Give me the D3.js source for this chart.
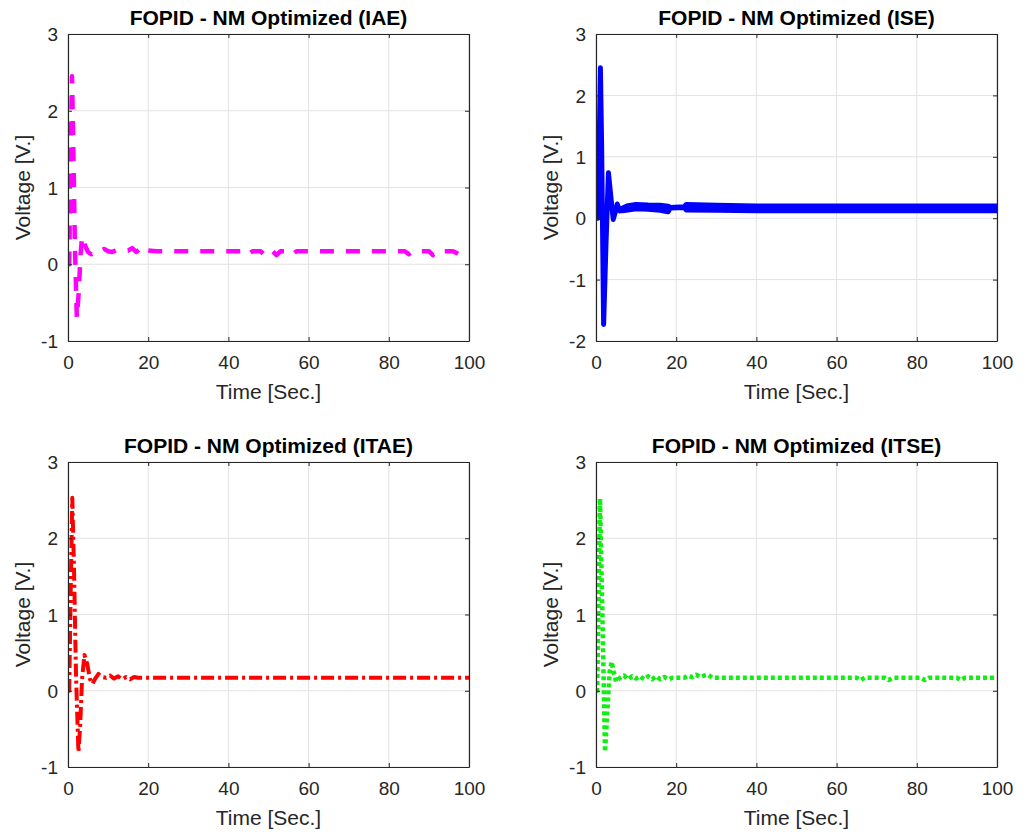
<!DOCTYPE html>
<html>
<head>
<meta charset="utf-8">
<script src="https://cdn.jsdelivr.net/npm/d3@7"></script>
<style>
body { margin: 0; background: #fff; }
text { font-family: "Liberation Sans", Arial, sans-serif; }
</style>
</head>
<body>
<svg id="chart" width="1030" height="835"></svg>
<script>
// Axis ticks
var xTicks = [0, 20, 40, 60, 80, 100];
var yTicksA = [-1, 0, 1, 2, 3];
var yTicksB = [-2, -1, 0, 1, 2, 3];

// [time, voltage]
var iae = [[0,0],[0.3,0],[0.6,1.2],[1.0,2.45],[1.3,1.6],[1.7,0.3],[2.2,-0.7],[2.7,-0.35],[3.1,0.1],[3.5,0.36],
  [4.2,0.25],[5.0,0.16],[5.8,0.13],[6.5,0.16],[8,0.17],[9,0.2],[10,0.17],[11,0.16],[12,0.18],[13,0.17],
  [15,0.18],[16,0.21],[17,0.16],[18,0.2],[19,0.15],[20,0.18],[22,0.17],[44,0.17],[45,0.13],[46,0.17],
  [48,0.17],[49,0.12],[50,0.17],[51,0.17],[52,0.12],[53,0.17],[55,0.17],[56,0.13],[57,0.17],[84,0.17],
  [85,0.13],[86,0.17],[90,0.17],[91,0.12],[92,0.17],[96,0.17],[97.5,0.13],[99,0.14]];

// [time, voltage, half width of the noise band]
var ise = [[0,0,0],[0.5,0,0],[1.1,2.45,0],[1.4,1.2,0],[1.9,-1.73,0],[2.5,-0.4,0],[3.1,0.74,0],[3.7,0.35,0],
  [4.3,-0.02,0],[4.8,0.1,0],[5.3,0.23,0],[5.9,0.12,0],[6.5,0.14,0.02],[8,0.17,0.035],[10,0.19,0.035],
  [13,0.18,0.035],[16,0.17,0.04],[18,0.15,0.045],[18.5,0.17,0.005],[22,0.18,0.005],[22.5,0.18,0.045],
  [30,0.17,0.04],[40,0.16,0.04],[60,0.16,0.04],[80,0.16,0.04],[100,0.16,0.04]];

var itae = [[0,0],[0.3,0],[0.7,1.4],[1.07,2.53],[1.5,1.6],[2.0,0.2],[2.6,-0.8],[3.0,-0.5],[3.5,0.15],[4.1,0.47],
  [4.8,0.35],[5.5,0.15],[6.1,0.09],[6.8,0.16],[7.6,0.22],[8.5,0.18],[9.5,0.17],[10.5,0.2],[11.5,0.16],
  [12.5,0.19],[13.5,0.15],[14.5,0.18],[15.5,0.15],[16.5,0.18],[17.5,0.17],[100,0.17]];

var itse = [[0,0],[0.3,0],[1.0,2.52],[1.6,1.0],[2.25,-0.8],[2.8,-0.3],[3.4,0.25],[3.9,0.38],[4.4,0.25],[5.0,0.12],
  [6,0.17],[7,0.2],[8,0.15],[9,0.19],[10,0.16],[11,0.19],[12,0.15],[13,0.19],[14,0.15],[15,0.19],[16,0.15],
  [17,0.18],[18,0.15],[19,0.17],[22,0.17],[23,0.2],[24,0.18],[25,0.21],[26,0.18],[27,0.2],[28,0.21],[29,0.17],
  [65,0.17],[66,0.14],[67,0.17],[72,0.17],[73,0.14],[74,0.17],[81,0.17],[82,0.14],[83,0.17],[90,0.17],
  [91,0.14],[92,0.17],[100,0.17]];

var titles = ["FOPID - NM Optimized (IAE)", "FOPID - NM Optimized (ISE)",
              "FOPID - NM Optimized (ITAE)", "FOPID - NM Optimized (ITSE)"];

var panels = [
  {title: titles[0], data: iae, color: "#ff00ff", dash: "14,12", lw: 4.5, yTicks: yTicksA, left: 68, top: 34, h: 307},
  {title: titles[1], data: ise, color: "#0000ff", dash: null, lw: 5, yTicks: yTicksB, left: 596, top: 34, h: 307, band: true},
  {title: titles[2], data: itae, color: "#ff0000", dash: "13,4,3,4", lw: 4, yTicks: yTicksA, left: 68, top: 462, h: 305},
  {title: titles[3], data: itse, color: "#11ee11", dash: "4,3", lw: 4.5, yTicks: yTicksA, left: 596, top: 462, h: 305}
];

var svg = d3.select("#chart");
var w = 401;
var axisColor = "#262626";

panels.forEach(function(p, i) {
  var g = svg.append("g").attr("transform", `translate(${p.left}, ${p.top})`);

  var x = d3.scaleLinear().domain([0, 100]).range([0, w]);
  var y = d3.scaleLinear().domain(d3.extent(p.yTicks)).range([p.h, 0]);

  g.append("clipPath").attr("id", "clip" + i)
    .append("rect").attr("width", w).attr("height", p.h);

  // grid
  g.selectAll(".gx").data(xTicks).enter().append("line")
    .attr("x1", d => x(d)).attr("x2", d => x(d))
    .attr("y1", 0).attr("y2", p.h)
    .attr("stroke", "#e2e2e2").attr("stroke-width", 1);
  g.selectAll(".gy").data(p.yTicks).enter().append("line")
    .attr("x1", 0).attr("x2", w)
    .attr("y1", d => y(d)).attr("y2", d => y(d))
    .attr("stroke", "#e2e2e2").attr("stroke-width", 1);

  var plot = g.append("g").attr("clip-path", `url(#clip${i})`);

  if (p.band) {
    var area = d3.area()
      .x(d => x(d[0]))
      .y0(d => y(d[1] - d[2]))
      .y1(d => y(d[1] + d[2]));
    plot.append("path")
      .attr("d", area(p.data))
      .attr("fill", p.color)
      .attr("stroke", p.color)
      .attr("stroke-width", p.lw)
      .attr("stroke-linejoin", "round");
  } else {
    var line = d3.line().x(d => x(d[0])).y(d => y(d[1]));
    plot.append("path")
      .attr("d", line(p.data))
      .attr("fill", "none")
      .attr("stroke", p.color)
      .attr("stroke-width", p.lw)
      .attr("stroke-dasharray", p.dash)
      .attr("stroke-linejoin", "round");
  }

  // axes, ticks pointing inward on all four sides
  var fmt = d => String(d);
  var bottom = g.append("g").attr("transform", `translate(0, ${p.h})`)
    .call(d3.axisBottom(x).tickValues(xTicks).tickFormat(fmt).tickSizeInner(-4).tickSizeOuter(0).tickPadding(15));
  var left = g.append("g")
    .call(d3.axisLeft(y).tickValues(p.yTicks).tickFormat(fmt).tickSizeInner(-4).tickSizeOuter(0).tickPadding(10));
  var topAx = g.append("g")
    .call(d3.axisTop(x).tickValues(xTicks).tickSizeInner(-4).tickSizeOuter(0).tickFormat(""));
  var rightAx = g.append("g").attr("transform", `translate(${w}, 0)`)
    .call(d3.axisRight(y).tickValues(p.yTicks).tickSizeInner(-4).tickSizeOuter(0).tickFormat(""));

  [bottom, left, topAx, rightAx].forEach(function(a) {
    a.select(".domain").attr("stroke", axisColor).attr("stroke-width", 1.2);
    a.selectAll(".tick line").attr("stroke", axisColor);
    a.selectAll(".tick text")
      .attr("fill", axisColor)
      .style("font-size", "19px")
      .style("font-family", '"Liberation Sans", Arial, sans-serif');
  });
  left.selectAll(".tick text").attr("dy", "0.35em");

  // labels
  g.append("text")
    .attr("x", w / 2).attr("y", p.h + 58)
    .attr("text-anchor", "middle")
    .attr("fill", axisColor)
    .style("font-size", "21px")
    .text("Time [Sec.]");

  g.append("text")
    .attr("transform", `translate(-38, ${p.h / 2}) rotate(-90)`)
    .attr("text-anchor", "middle")
    .attr("fill", axisColor)
    .style("font-size", "21px")
    .text("Voltage [V.]");

  g.append("text")
    .attr("x", w / 2).attr("y", -9)
    .attr("text-anchor", "middle")
    .attr("fill", "#000")
    .style("font-size", "21px")
    .style("font-weight", "bold")
    .text(p.title);
});
</script>
</body>
</html>
